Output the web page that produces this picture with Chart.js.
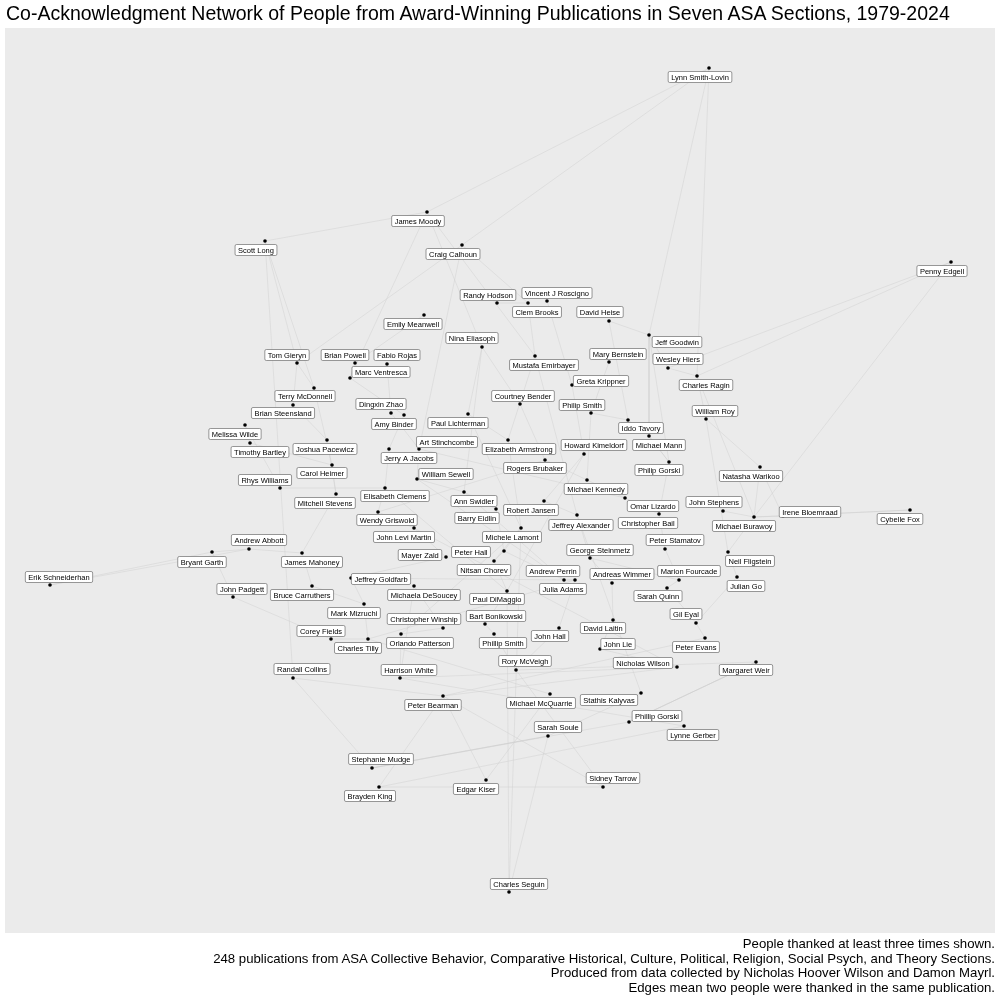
<!DOCTYPE html>
<html>
<head>
<meta charset="utf-8">
<script src="https://cdn.jsdelivr.net/npm/chart.js@4"></script>
<style>
  body { margin: 0; background: #fff; font-family: "Liberation Sans", Arial, sans-serif; }
  #wrap { position: relative; width: 1000px; height: 1000px; }
  #title { position: absolute; left: 6px; top: 2px; font-size: 19.5px; color: #000; white-space: nowrap; }
  #caption { position: absolute; right: 5px; top: 937px; font-size: 13.2px; line-height: 14.7px; text-align: right; color: #000; white-space: nowrap; }
  canvas { position: absolute; left: 0; top: 0; }
</style>
</head>
<body>
<div id="wrap">
  <canvas id="chart" width="1000" height="1000"></canvas>
  <div id="title">Co-Acknowledgment Network of People from Award-Winning Publications in Seven ASA Sections, 1979-2024</div>
  <div id="caption">People thanked at least three times shown.<br>248 publications from ASA Collective Behavior, Comparative Historical, Culture, Political, Religion, Social Psych, and Theory Sections.<br>Produced from data collected by Nicholas Hoover Wilson and Damon Mayrl.<br>Edges mean two people were thanked in the same publication.</div>
</div>
<script>
// node name, dot position, label position (layout coords)
const names = ['Lynn Smith-Lovin','James Moody','Craig Calhoun','Scott Long','Penny Edgell','Randy Hodson','Vincent J Roscigno','Clem Brooks','David Heise','Emily Meanwell','Jeff Goodwin','Nina Eliasoph','Tom Gieryn','Brian Powell','Fabio Rojas','Mary Bernstein','Wesley Hiers','Mustafa Emirbayer','Marc Ventresca','Greta Krippner','Charles Ragin','Terry McDonnell','Courtney Bender','Philip Smith','Dingxin Zhao','William Roy','Brian Steensland','Amy Binder','Paul Lichterman','Iddo Tavory','Melissa Wilde','Art Stinchcombe','Michael Mann','Howard Kimeldorf','Elizabeth Armstrong','Joshua Pacewicz','Timothy Bartley','Jerry A Jacobs','Rogers Brubaker','Philip Gorski','Natasha Warikoo','William Sewell','Carol Heimer','Rhys Williams','Michael Kennedy','Elisabeth Clemens','Mitchell Stevens','Ann Swidler','John Stephens','Omar Lizardo','Robert Jansen','Irene Bloemraad','Cybelle Fox','Barry Eidlin','Wendy Griswold','Jeffrey Alexander','Christopher Bail','Michael Burawoy','John Levi Martin','Michele Lamont','Andrew Abbott','Peter Stamatov','George Steinmetz','Peter Hall','Mayer Zald','Bryant Garth','James Mahoney','Neil Fligstein','Nitsan Chorev','Andrew Perrin','Marion Fourcade','Andreas Wimmer','Erik Schneiderhan','Jeffrey Goldfarb','Julia Adams','Julian Go','John Padgett','Bruce Carruthers','Michaela DeSoucey','Sarah Quinn','Paul DiMaggio','Mark Mizruchi','Gil Eyal','Bart Bonikowski','Christopher Winship','David Laitin','Corey Fields','John Hall','Phillip Smith','John Lie','Orlando Patterson','Peter Evans','Charles Tilly','Rory McVeigh','Nicholas Wilson','Randall Collins','Harrison White','Margaret Weir','Stathis Kalyvas','Michael McQuarrie','Peter Bearman','Phillip Gorski','Sarah Soule','Lynne Gerber','Stephanie Mudge','Sidney Tarrow','Edgar Kiser','Brayden King','Charles Seguin'];
const nodeX = [709,427,462,265,951,497,547,528,609,424,649,482,297,355,387,609,668,535,350,572,697,314,520,591,391,706,293,404,468,628,245,419,649,584,508,327,250,389,545,669,760,417,332,280,587,385,336,464,723,625,544,783,910,496,378,577,659,754,414,521,249,665,590,504,446,212,302,728,494,564,679,612,50,351,575,737,233,312,414,667,507,364,696,485,443,613,331,559,494,600,401,705,368,516,677,293,400,756,641,550,443,629,548,684,372,603,486,379,509];
const nodeY = [68,212,245,241,262,303,301,303,321,315,335,347,363,363,364,362,368,356,378,385,376,388,404,413,413,419,405,415,414,420,425,449,436,454,440,440,443,449,460,462,467,479,465,488,480,488,494,492,511,498,501,516,510,509,512,515,514,517,528,528,549,549,558,551,557,552,553,552,561,580,580,583,585,578,580,577,597,586,586,588,591,604,623,624,628,620,639,628,634,649,634,638,639,670,667,678,678,662,693,694,696,722,736,726,768,787,780,787,892];
const labelX = [700,418,453,256,942,488,557,537,600,413,677,472,287,345,397,618,678,544,381,601,706,305,523,582,381,715,283,394,458,641,235,447,659,594,519,325,260,409,535,659,751,446,322,265,596,395,325,474,714,653,531,810,900,477,387,581,648,744,404,512,259,675,600,471,420,202,312,750,484,553,689,622,59,381,563,746,242,302,424,658,497,354,686,496,424,603,321,550,503,618,420,696,358,525,643,302,409,746,609,541,433,657,558,693,381,613,476,370,519];
const labelY = [77,221,254,250,271,295,293,312,312,324,342,338,355,355,355,354,359,365,372,381,385,396,396,405,404,411,413,424,423,428,434,442,445,445,449,449,452,458,468,470,476,474,473,480,489,496,503,501,502,506,510,512,519,518,520,525,523,526,537,537,540,540,550,552,555,562,562,561,570,571,571,574,577,579,589,586,589,595,595,596,599,613,614,616,619,628,631,636,643,644,643,647,648,661,663,669,670,670,700,703,705,716,727,735,759,778,789,796,884];

// edges
const edgeFrom = ['Lynn Smith-Lovin','Lynn Smith-Lovin','Lynn Smith-Lovin','Lynn Smith-Lovin','Penny Edgell','Penny Edgell','Penny Edgell','James Moody','James Moody','James Moody','James Moody','Craig Calhoun','Craig Calhoun','Craig Calhoun','Scott Long','Scott Long','Scott Long','Randy Hodson','Vincent J Roscigno','Clem Brooks','David Heise','David Heise','Emily Meanwell','Jeff Goodwin','Jeff Goodwin','Jeff Goodwin','Nina Eliasoph','Nina Eliasoph','Nina Eliasoph','Tom Gieryn','Tom Gieryn','Brian Powell','Fabio Rojas','Mary Bernstein','Wesley Hiers','Mustafa Emirbayer','Mustafa Emirbayer','Marc Ventresca','Greta Krippner','Charles Ragin','Charles Ragin','Terry McDonnell','Courtney Bender','Philip Smith','Philip Smith','Dingxin Zhao','William Roy','William Roy','Brian Steensland','Amy Binder','Paul Lichterman','Paul Lichterman','Iddo Tavory','Melissa Wilde','Melissa Wilde','Art Stinchcombe','Michael Mann','Howard Kimeldorf','Elizabeth Armstrong','Joshua Pacewicz','Timothy Bartley','Jerry A Jacobs','Rogers Brubaker','Philip Gorski','Natasha Warikoo','Natasha Warikoo','William Sewell','Carol Heimer','Rhys Williams','Michael Kennedy','Elisabeth Clemens','Mitchell Stevens','Ann Swidler','John Stephens','Omar Lizardo','Robert Jansen','Irene Bloemraad','Cybelle Fox','Cybelle Fox','Barry Eidlin','Wendy Griswold','Jeffrey Alexander','Christopher Bail','Michael Burawoy','John Levi Martin','Michele Lamont','Andrew Abbott','Andrew Abbott','Peter Stamatov','George Steinmetz','Peter Hall','Peter Hall','Mayer Zald','Bryant Garth','James Mahoney','Neil Fligstein','Nitsan Chorev','Andrew Perrin','Marion Fourcade','Andreas Wimmer','Erik Schneiderhan','Erik Schneiderhan','Jeffrey Goldfarb','Julia Adams','Julian Go','John Padgett','Bruce Carruthers','Michaela DeSoucey','Sarah Quinn','Paul DiMaggio','Mark Mizruchi','Gil Eyal','Bart Bonikowski','Christopher Winship','David Laitin','Corey Fields','John Hall','Phillip Smith','John Lie','Orlando Patterson','Peter Evans','Charles Tilly','Rory McVeigh','Nicholas Wilson','Randall Collins','Randall Collins','Harrison White','Margaret Weir','Margaret Weir','Stathis Kalyvas','Michael McQuarrie','Peter Bearman','Peter Bearman','Phillip Gorski','Sarah Soule','Lynne Gerber','Stephanie Mudge','Stephanie Mudge','Sidney Tarrow','Sidney Tarrow','Edgar Kiser','Edgar Kiser','Brayden King','Charles Seguin','Charles Seguin','Charles Seguin','Michele Lamont','Ann Swidler','Paul DiMaggio','Peter Hall','Michael Mann','Jeffrey Alexander','Rogers Brubaker','Julia Adams','Elisabeth Clemens','John Levi Martin','Michaela DeSoucey','George Steinmetz','Charles Tilly','Omar Lizardo','Andrew Perrin','Wendy Griswold','Jerry A Jacobs'];
const edgeTo = ['Charles Ragin','Jeff Goodwin','Craig Calhoun','James Moody','Wesley Hiers','Charles Ragin','Michael Burawoy','Scott Long','Nina Eliasoph','Mustafa Emirbayer','Marc Ventresca','Clem Brooks','Art Stinchcombe','Tom Gieryn','Tom Gieryn','Terry McDonnell','Randall Collins','Clem Brooks','Greta Krippner','Mustafa Emirbayer','Jeff Goodwin','Iddo Tavory','Brian Powell','Wesley Hiers','Michael Mann','Philip Gorski','Courtney Bender','Paul Lichterman','Ann Swidler','Terry McDonnell','Brian Steensland','Marc Ventresca','Dingxin Zhao','Philip Smith','Charles Ragin','Elizabeth Armstrong','Jeffrey Alexander','Amy Binder','Howard Kimeldorf','William Roy','Michael Burawoy','Carol Heimer','Rogers Brubaker','Iddo Tavory','Michael Kennedy','Art Stinchcombe','Neil Fligstein','Natasha Warikoo','Joshua Pacewicz','Jerry A Jacobs','Elizabeth Armstrong','Michele Lamont','Michael Mann','Timothy Bartley','Rhys Williams','William Sewell','Philip Gorski','Robert Jansen','Michele Lamont','Mitchell Stevens','Carol Heimer','Elisabeth Clemens','Michael Kennedy','Christopher Bail','Irene Bloemraad','Michael Burawoy','Ann Swidler','Mitchell Stevens','Elisabeth Clemens','Omar Lizardo','Wendy Griswold','James Mahoney','Barry Eidlin','Michael Burawoy','Christopher Bail','Jeffrey Alexander','Michael Burawoy','Irene Bloemraad','Michael Burawoy','Peter Hall','John Levi Martin','George Steinmetz','Peter Stamatov','Neil Fligstein','Mayer Zald','Nitsan Chorev','Bryant Garth','James Mahoney','Marion Fourcade','Andreas Wimmer','Nitsan Chorev','Michele Lamont','Jeffrey Goldfarb','John Padgett','Bruce Carruthers','Julian Go','Paul DiMaggio','Julia Adams','Sarah Quinn','David Laitin','Bryant Garth','Andrew Abbott','Mark Mizruchi','John Hall','Gil Eyal','Corey Fields','Mark Mizruchi','Christopher Winship','Gil Eyal','Bart Bonikowski','Charles Tilly','Peter Evans','Phillip Smith','Orlando Patterson','John Lie','Charles Tilly','Rory McVeigh','Rory McVeigh','Nicholas Wilson','Harrison White','Peter Bearman','Michael McQuarrie','Margaret Weir','Harrison White','Stephanie Mudge','Peter Bearman','Lynne Gerber','Phillip Gorski','Phillip Gorski','Sarah Soule','Edgar Kiser','Brayden King','Nicholas Wilson','Margaret Weir','Stephanie Mudge','Brayden King','Phillip Gorski','Sarah Soule','Rory McVeigh','Peter Bearman','Peter Bearman','Edgar Kiser','Sidney Tarrow','Sarah Soule','Paul DiMaggio','Michele Lamont','Orlando Patterson','Andrew Perrin','Howard Kimeldorf','Andrew Perrin','Philip Gorski','Stathis Kalyvas','Wendy Griswold','Jeffrey Goldfarb','Paul DiMaggio','Nicholas Wilson','Harrison White','Marion Fourcade','Julia Adams','Art Stinchcombe','William Sewell'];

const idx = n => names.indexOf(n);

const edgeSets = edgeFrom.map((a, i) => {
    const b = edgeTo[i];
    return {
        type: 'line',
        data: [{x: nodeX[idx(a)], y: nodeY[idx(a)]}, {x: nodeX[idx(b)], y: nodeY[idx(b)]}],
        borderColor: 'rgba(205,205,205,0.75)',
        borderWidth: 0.6,
        pointRadius: 0,
        order: 2
    };
});

const bgPlugin = {
    id: 'bg',
    beforeDraw(c) {
        const a = c.chartArea, ctx = c.ctx;
        ctx.save();
        ctx.fillStyle = '#ebebeb';
        ctx.fillRect(a.left, a.top, a.right - a.left, a.bottom - a.top);
        ctx.restore();
    }
};

const labelPlugin = {
    id: 'labels',
    afterDatasetsDraw(c) {
        const ctx = c.ctx, sx = c.scales.x, sy = c.scales.y;
        ctx.save();
        ctx.font = '7.5px "Liberation Sans", Arial, sans-serif';
        ctx.textAlign = 'center';
        ctx.textBaseline = 'middle';
        names.forEach((n, i) => {
            const px = sx.getPixelForValue(labelX[i]);
            const py = sy.getPixelForValue(labelY[i]);
            const w = ctx.measureText(n).width + 6;
            const h = 11;
            ctx.fillStyle = '#fff';
            ctx.strokeStyle = '#555';
            ctx.lineWidth = 0.6;
            ctx.beginPath();
            ctx.roundRect(px - w / 2, py - h / 2, w, h, 1.5);
            ctx.fill();
            ctx.stroke();
            ctx.fillStyle = '#000';
            ctx.fillText(n, px, py + 0.5);
        });
        ctx.restore();
    }
};

let chart = new Chart(document.getElementById('chart'), {
    type: 'scatter',
    data: {
        datasets: edgeSets.concat([{
            data: names.map((n, i) => ({x: nodeX[i], y: nodeY[i]})),
            backgroundColor: '#000',
            borderWidth: 0,
            pointRadius: 1.8,
            order: 1
        }])
    },
    options: {
        responsive: false,
        animation: false,
        devicePixelRatio: 1,
        layout: {padding: {left: 5, right: 5, top: 28, bottom: 67}},
        plugins: {legend: {display: false}, tooltip: {enabled: false}},
        scales: {
            x: {type: 'linear', min: 5, max: 995, display: false},
            y: {type: 'linear', min: 28, max: 933, reverse: true, display: false}
        }
    },
    plugins: [bgPlugin, labelPlugin]
});
</script>
</body>
</html>
